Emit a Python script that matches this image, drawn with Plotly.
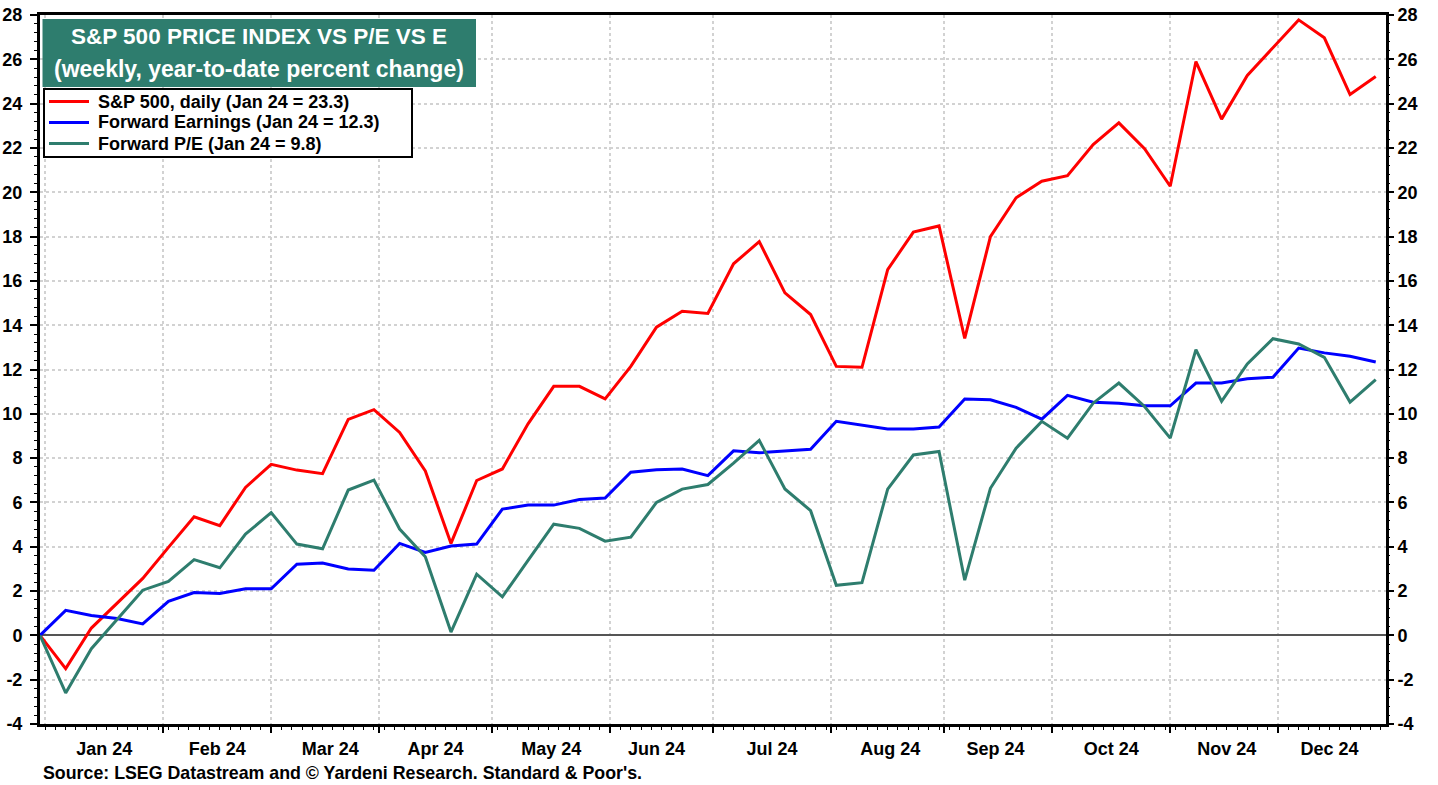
import pandas as pd
import plotly.graph_objects as go

# ---------------- data ----------------
dates = pd.date_range("2023-12-29", periods=53, freq="7D")

sp500 = [0, -1.5, 0.33, 1.47, 2.57, 3.97, 5.35, 4.95, 6.68, 7.72, 7.46, 7.3, 9.75,
         10.19, 9.16, 7.42, 4.15, 6.99, 7.51, 9.55, 11.24, 11.24, 10.67, 12.14, 13.91,
         14.63, 14.53, 16.77, 17.77, 15.46, 14.48, 12.14, 12.1, 16.51, 18.2, 18.48,
         13.4, 18.0, 19.75, 20.5, 20.75, 22.15, 23.13, 21.97, 20.27, 25.9, 23.3,
         25.27, 26.55, 27.78, 26.97, 24.41, 25.22]

fwd_earnings = [0, 1.13, 0.9, 0.76, 0.52, 1.54, 1.93, 1.89, 2.1, 2.1, 3.21, 3.27, 3.0,
                2.94, 4.15, 3.74, 4.03, 4.12, 5.7, 5.88, 5.88, 6.13, 6.2, 7.36, 7.47,
                7.51, 7.21, 8.33, 8.24, 8.33, 8.4, 9.66, 9.5, 9.32, 9.32, 9.4, 10.67,
                10.63, 10.29, 9.76, 10.83, 10.52, 10.48, 10.36, 10.36, 11.39, 11.39,
                11.58, 11.65, 12.97, 12.75, 12.6, 12.34]

fwd_pe = [0, -2.6, -0.6, 0.71, 2.04, 2.44, 3.42, 3.05, 4.57, 5.54, 4.12, 3.91, 6.56,
          7.01, 4.8, 3.55, 0.15, 2.76, 1.74, 3.39, 5.02, 4.83, 4.25, 4.43, 6.0, 6.6,
          6.81, 7.77, 8.8, 6.61, 5.63, 2.26, 2.38, 6.6, 8.14, 8.3, 2.49, 6.64, 8.45,
          9.66, 8.9, 10.48, 11.39, 10.33, 8.9, 12.9, 10.56, 12.25, 13.39, 13.15,
          12.55, 10.53, 11.54]

series_names = ["S&P 500, daily (Jan 24 = 23.3)",
                "Forward Earnings (Jan 24 = 12.3)",
                "Forward P/E (Jan 24 = 9.8)"]
series_colors = ["#ff0000", "#0000ff", "#2e7d6e"]

y_tickvals = [-4, -2, 0, 2, 4, 6, 8, 10, 12, 14, 16, 18, 20, 22, 24, 26, 28]
y_ticktext = ["-4", "-2", "0", "2", "4", "6", "8", "10", "12", "14", "16", "18",
              "20", "22", "24", "26", "28"]

title_lines = ["S&P 500 PRICE INDEX VS P/E VS E", "(weekly, year-to-date percent change)"]
source_text = "Source: LSEG Datastream and © Yardeni Research. Standard & Poor's."

y_range = [-4, 28]
x_range = ["2023-12-29", "2024-12-31"]

# ---------------- figure ----------------
FONT = "Liberation Sans, Arial, sans-serif"
W, H = 1438, 785
ML, MR, MT, MB = 40, 52, 15, 61
PW, PH = W - ML - MR, H - MT - MB


def px_x(x):  # pixel -> paper
    return (x - ML) / PW


def px_y(y):
    return (H - MB - y) / PH


fig = go.Figure()
for vals, name, col in zip([sp500, fwd_earnings, fwd_pe], series_names, series_colors):
    fig.add_trace(go.Scatter(x=dates, y=vals, mode="lines", name=name,
                             line=dict(color=col, width=3), showlegend=False))

tickfont = dict(family=FONT, size=18, color="black", weight="bold")
GRID = "#d2d2d2"

fig.update_layout(
    width=W, height=H,
    margin=dict(l=ML, r=MR, t=MT, b=MB),
    paper_bgcolor="white", plot_bgcolor="white",
    font=dict(family=FONT, color="black"),
    xaxis=dict(
        type="date", range=x_range, automargin=False,
        rangebreaks=[dict(bounds=["sat", "mon"])],
        dtick="M1", tick0="2024-01-01", tickformat="%b %y",
        ticklabelmode="period",
        ticks="outside", ticklen=6, tickwidth=1.5, tickcolor="black",
        tickfont=tickfont,
        showline=True, linewidth=3, linecolor="black", mirror=True,
        showgrid=True, gridcolor=GRID, gridwidth=2, griddash="dot",
        minor=dict(dtick=2 * 86400000, ticks="outside", ticklen=3,
                   tickcolor="black", tickwidth=1, showgrid=False),
        zeroline=False,
    ),
    yaxis=dict(
        range=y_range, tickmode="array", tickvals=y_tickvals, ticktext=y_ticktext,
        automargin=False,
        ticks="outside", ticklen=7, tickwidth=1.5, tickcolor="black",
        tickfont=tickfont, ticklabelstandoff=4,
        showline=True, linewidth=3, linecolor="black", mirror=True,
        showgrid=True, gridcolor=GRID, gridwidth=2, griddash="dot",
        zeroline=True, zerolinecolor="#555555", zerolinewidth=1.5,
        minor=dict(dtick=0.4, tick0=0, ticks="outside", ticklen=3,
                   tickcolor="black", tickwidth=1, showgrid=False),
    ),
    yaxis2=dict(
        range=y_range, tickmode="array", tickvals=y_tickvals, ticktext=y_ticktext,
        overlaying="y", side="right", automargin=False,
        ticks="outside", ticklen=7, tickwidth=1.5, tickcolor="black",
        tickfont=tickfont, showgrid=False, zeroline=False, showline=False,
        minor=dict(dtick=0.4, tick0=0, ticks="outside", ticklen=3,
                   tickcolor="black", tickwidth=1, showgrid=False),
    ),
)

# right-axis twin (keeps the right scale drawn)
fig.add_trace(go.Scatter(x=dates, y=sp500, yaxis="y2", mode="lines",
                         line=dict(width=0, color="rgba(0,0,0,0)"),
                         showlegend=False, hoverinfo="skip"))

# title box
fig.add_shape(type="rect", xref="paper", yref="paper",
              x0=px_x(42.5), x1=px_x(476), y0=px_y(87), y1=px_y(19),
              fillcolor="#2e7d6e", line=dict(width=0), layer="above")
fig.add_annotation(xref="paper", yref="paper", x=px_x(259), y=px_y(37),
                   text=title_lines[0], showarrow=False,
                   xanchor="center", yanchor="middle",
                   font=dict(family=FONT, size=22.5, color="white", weight="bold"))
fig.add_annotation(xref="paper", yref="paper", x=px_x(259), y=px_y(69),
                   text=title_lines[1], showarrow=False,
                   xanchor="center", yanchor="middle",
                   font=dict(family=FONT, size=23, color="white", weight="bold"))

# legend box (drawn)
fig.add_shape(type="rect", xref="paper", yref="paper",
              x0=px_x(44), x1=px_x(412), y0=px_y(157), y1=px_y(89),
              fillcolor="white", line=dict(color="black", width=2), layer="above")
for k, (name, col) in enumerate(zip(series_names, series_colors)):
    yy = 101.5 + k * 21
    fig.add_shape(type="line", xref="paper", yref="paper",
                  x0=px_x(49), x1=px_x(89), y0=px_y(yy), y1=px_y(yy),
                  line=dict(color=col, width=3), layer="above")
    fig.add_annotation(xref="paper", yref="paper", x=px_x(96), y=px_y(yy),
                       text=name, showarrow=False, xanchor="left", yanchor="middle",
                       font=dict(family=FONT, size=18, color="black", weight="bold"))

# source
fig.add_annotation(xref="paper", yref="paper", x=px_x(41), y=px_y(773),
                   text=source_text, showarrow=False,
                   xanchor="left", yanchor="middle",
                   font=dict(family=FONT, size=17.8, color="black", weight="bold"))

fig.write_html("out.html",
               config={"displayModeBar": False},
               post_script="document.body.style.margin='0';"
                           "document.body.style.overflow='hidden';")
